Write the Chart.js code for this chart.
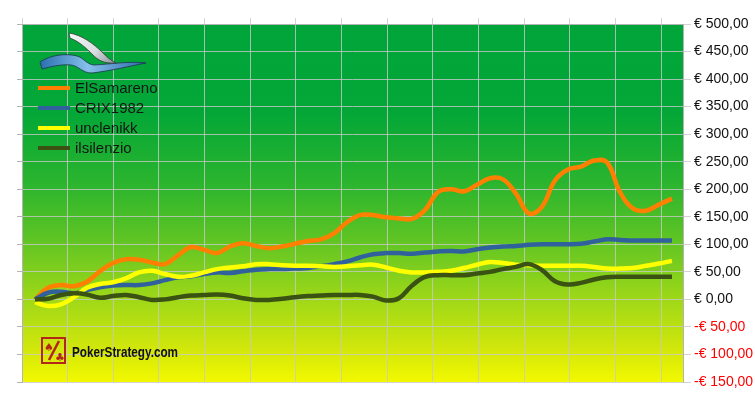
<!DOCTYPE html>
<html>
<head>
<meta charset="utf-8">
<script src="https://cdn.jsdelivr.net/npm/chart.js@4.4.1/dist/chart.umd.min.js"></script>
<style>
  html, body { margin: 0; padding: 0; background: #fff; }
  #wrap { width: 755px; height: 401px; position: relative; }
</style>
</head>
<body>
<div id="wrap"><canvas id="chart"></canvas></div>
<script>
// sessions 1..50
var sessions = [];
for (var s = 1; s <= 50; s++) sessions.push(s);

var elSamareno = [0, 21, 26, 24, 32, 51, 66, 73, 72, 67, 64, 80, 95, 90, 84, 96, 102, 97, 93, 96,
  101, 106, 109, 120, 140, 153, 153, 149, 147, 146, 162, 195, 200, 196, 208, 220, 218, 192, 156, 168,
  216, 236, 241, 252, 249, 195, 165, 161, 172, 183];
var crix1982 = [0, 12, 14, 11, 17, 22, 25, 26, 26, 29, 35, 40, 42, 46, 49, 48, 51, 54, 55, 55,
  56, 57, 60, 64, 69, 76, 82, 84, 84, 83, 85, 87, 88, 87, 91, 94, 96, 97, 99, 100,
  100, 100, 101, 105, 109, 108, 107, 107, 107, 107];
var unclenikk = [-5, -12, -9, 4, 21, 28, 31, 38, 49, 52, 46, 41, 43, 49, 55, 58, 60, 64, 64, 62,
  61, 61, 60, 59, 60, 62, 63, 58, 52, 49, 49, 50, 52, 57, 63, 68, 66, 63, 62, 61,
  61, 61, 61, 59, 56, 56, 57, 61, 65, 70];
var ilsilenzio = [0, 1, 8, 11, 9, 3, 6, 8, 4, -1, 0, 4, 7, 8, 9, 7, 2, -1, -1, 1,
  4, 6, 7, 8, 8, 8, 5, -2, 2, 25, 41, 44, 44, 44, 47, 50, 55, 59, 64, 53,
  33, 27, 30, 36, 40, 41, 41, 41, 41, 41];

var playerNames = ['ElSamareno', 'CRIX1982', 'unclenikk', 'ilsilenzio'];
var playerColors = ['#ff7f00', '#31619c', '#ffff00', '#3a5212'];
var playerSeries = [elSamareno, crix1982, unclenikk, ilsilenzio];

var yTicks = { min: -150, max: 500, step: 50 };

function toPoints(vals) {
  return sessions.map(function (x, i) { return { x: x, y: vals[i] } })
}

function euro(v) {
  return (v < 0 ? '-' : '') + '€ ' + Math.abs(v).toFixed(2).replace('.', ',')
}

// green -> yellow plot background
var bgPlugin = {
  id: 'bg',
  beforeDraw: function (chart) {
    var a = chart.chartArea, ctx = chart.ctx
    var g = ctx.createLinearGradient(0, a.top, 0, a.bottom)
    g.addColorStop(0, '#00a53a')
    g.addColorStop(0.25, '#04a737')
    g.addColorStop(0.45, '#2cb52e')
    g.addColorStop(0.6, '#5ec424')
    g.addColorStop(0.77, '#9fd818')
    g.addColorStop(0.9, '#cfe60c')
    g.addColorStop(1, '#f3f800')
    ctx.save()
    ctx.fillStyle = g
    ctx.fillRect(a.left, a.top, a.right - a.left, a.bottom - a.top)
    ctx.restore()
  }
}

// legend + logos drawn inside the plot
var decoPlugin = {
  id: 'deco',
  afterDraw: function (chart) {
    var ctx = chart.ctx
    ctx.save()

    // legend, in series order
    playerNames.forEach(function (name, i) {
      var y = 88 + i * 20
      ctx.strokeStyle = playerColors[i]
      ctx.lineWidth = 4
      ctx.beginPath()
      ctx.moveTo(38, y)
      ctx.lineTo(70, y)
      ctx.stroke()
      ctx.fillStyle = '#151515'
      ctx.font = '15px "Liberation Sans", Arial, sans-serif'
      ctx.textBaseline = 'middle'
      ctx.fillText(name, 75, y + 1)
    })

    // wave logo
    var bg = ctx.createLinearGradient(40, 0, 146, 0)
    bg.addColorStop(0, '#2a6fb0')
    bg.addColorStop(0.45, '#86c0ea')
    bg.addColorStop(1, '#2b6aa8')
    ctx.fillStyle = bg
    ctx.strokeStyle = '#1d3550'
    ctx.lineWidth = 0.8
    ctx.beginPath()
    ctx.moveTo(40, 62)
    ctx.bezierCurveTo(50, 55, 66, 53, 77, 56)
    ctx.bezierCurveTo(84, 58, 86, 64, 94, 65)
    ctx.bezierCurveTo(112, 64, 130, 61, 146, 63)
    ctx.bezierCurveTo(130, 66, 110, 71, 92, 73)
    ctx.bezierCurveTo(82, 73, 79, 66, 71, 65)
    ctx.bezierCurveTo(60, 64, 50, 67, 42, 69)
    ctx.closePath()
    ctx.fill()
    ctx.stroke()

    var sg = ctx.createLinearGradient(70, 35, 112, 63)
    sg.addColorStop(0, '#f6f6f6')
    sg.addColorStop(0.6, '#d8dde0')
    sg.addColorStop(1, '#8e989c')
    ctx.fillStyle = sg
    ctx.strokeStyle = '#3b3b3b'
    ctx.beginPath()
    ctx.moveTo(69, 33)
    ctx.bezierCurveTo(82, 35, 94, 44, 102, 52)
    ctx.bezierCurveTo(106, 56, 110, 60, 116, 63)
    ctx.bezierCurveTo(104, 64, 98, 60, 93, 55)
    ctx.bezierCurveTo(86, 48, 80, 42, 70, 38)
    ctx.closePath()
    ctx.fill()
    ctx.stroke()

    // PokerStrategy logo
    var red = '#b3261c'
    ctx.strokeStyle = red
    ctx.lineWidth = 2
    ctx.strokeRect(42, 338, 23, 25)
    ctx.lineWidth = 2.5
    ctx.beginPath()
    ctx.moveTo(59, 341)
    ctx.lineTo(49, 360)
    ctx.stroke()
    ctx.fillStyle = red
    ctx.font = '11px "DejaVu Sans", sans-serif'
    ctx.textBaseline = 'alphabetic'
    ctx.fillText('♠', 44, 351)
    ctx.fillText('♣', 55, 361)
    ctx.fillStyle = '#111'
    ctx.font = 'bold 15px "Liberation Sans", Arial, sans-serif'
    ctx.fillText('PokerStrategy.com', 72, 357, 106)

    ctx.restore()
  }
}

// last series drawn on top, as in the original
var datasets = playerNames.map(function (name, i) {
  return {
    label: name,
    data: toPoints(playerSeries[i]),
    borderColor: playerColors[i],
    backgroundColor: playerColors[i],
    borderWidth: 4.5,
    pointRadius: 0,
    tension: 0.4,
    fill: false
  }
}).reverse()

var gridStep = 45.67 / 13   // one grid column in sessions

var ctx = document.getElementById('chart').getContext('2d')
var chart = new Chart(ctx, {
  type: 'line',
  data: { datasets: datasets },
  options: {
    responsive: true,
    maintainAspectRatio: false,
    animation: false,
    layout: { padding: { left: 17, top: 18, right: 0, bottom: 19 } },
    plugins: {
      legend: { display: false },
      tooltip: { enabled: false }
    },
    scales: {
      x: {
        type: 'linear',
        position: 'top',
        min: 0,
        max: 50.85,
        afterBuildTicks: function (axis) {
          var t = []
          for (var k = 0; k <= 14; k++) t.push({ value: k * gridStep })
          axis.ticks = t
        },
        ticks: { display: false },
        grid: { color: 'rgba(200,200,200,0.8)', tickLength: 6, lineWidth: 1 },
        border: { color: '#b4b4b4' }
      },
      yl: {
        position: 'left',
        min: yTicks.min,
        max: yTicks.max,
        ticks: { display: false, stepSize: yTicks.step },
        grid: { drawOnChartArea: false, tickLength: 5, color: '#b4b4b4' },
        border: { color: '#b4b4b4' }
      },
      y: {
        position: 'right',
        min: yTicks.min,
        max: yTicks.max,
        afterFit: function (axis) { axis.width = 72 },
        ticks: {
          stepSize: yTicks.step,
          padding: 3,
          color: function (c) { return c.tick.value < 0 ? '#ff0000' : '#111111' },
          font: { family: '"Liberation Sans", Arial, sans-serif', size: 14 },
          callback: function (v) { return euro(v) }
        },
        grid: { color: 'rgba(200,200,200,0.8)', tickLength: 8 },
        border: { color: '#b4b4b4' }
      }
    }
  },
  plugins: [bgPlugin, decoPlugin]
})
</script>
</body>
</html>
